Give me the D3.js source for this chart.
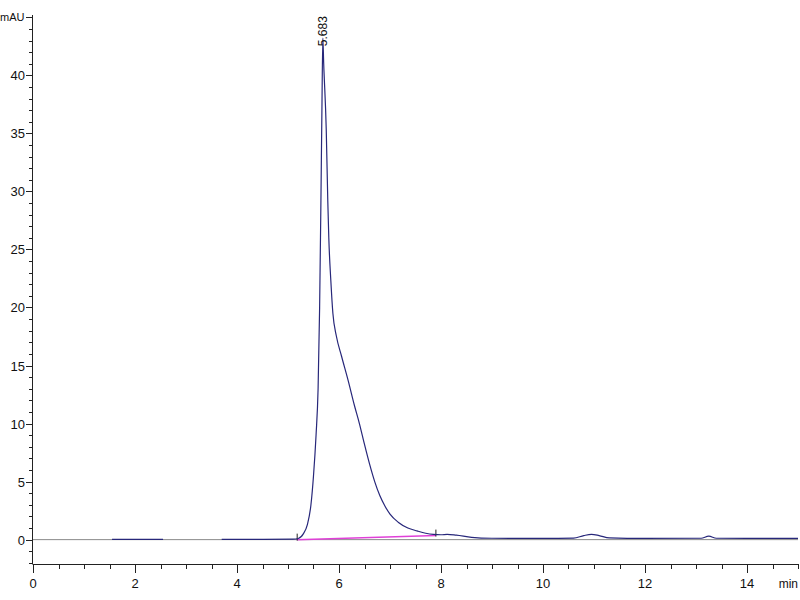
<!DOCTYPE html>
<meta charset="utf-8">
<script src="https://d3js.org/d3.v7.min.js"></script>
<style>
    body { margin: 0; background: #fff; }
    text { font-family: "Liberation Sans", Arial, sans-serif; fill: #111; }
</style>
<div id="vis"></div>
<script>
    // trace (min, mAU); null marks a gap
    var traceTime = [1.55, 2.55, null,
        3.7, 4.5, 5.1, 5.2, 5.3, 5.38, 5.45, 5.5, 5.55, 5.59, 5.62, 5.645, 5.665, 5.683,
        5.70, 5.75, 5.78, 5.80, 5.84, 5.88, 5.95, 6.05, 6.18, 6.30, 6.40, 6.50, 6.60, 6.70, 6.80, 6.90,
        7.0, 7.16, 7.35, 7.53, 7.7, 7.85, 8.0, 8.12, 8.3, 8.6, 9.0, 10, 10.6, 10.8, 10.95,
        11.1, 11.3, 12, 13.1, 13.25, 13.4, 14, 15];
    var traceValue = [0.03, 0.03, null,
        0.03, 0.03, 0.05, 0.1, 0.5, 1.3, 3, 5.5, 9, 13, 20, 29, 37, 43.2,
        41, 35.3, 29.2, 26, 22.3, 19.5, 17.5, 15.8, 13.7, 11.6, 10.0, 8.2, 6.5, 5.0, 3.8, 2.9,
        2.2, 1.5, 1.0, 0.75, 0.55, 0.45, 0.42, 0.45, 0.38, 0.2, 0.12, 0.1, 0.13, 0.35, 0.45,
        0.35, 0.15, 0.1, 0.12, 0.3, 0.12, 0.1, 0.1];

    // integration baseline of the main peak
    var baseTime = [5.18, 7.9];
    var baseValue = [0, 0.35];

    var peakTime = 5.683, peakValue = 43.2, peakLabel = "5.683";

    var xMajor = [0, 2, 4, 6, 8, 10, 12, 14];
    var yMajor = [0, 5, 10, 15, 20, 25, 30, 35, 40];

    var W = 800, H = 600;
    var svg = d3.select("#vis").append("svg")
        .attr("width", W).attr("height", H);

    var x = d3.scaleLinear().domain([0, 15]).range([33, 798]);
    var y = d3.scaleLinear().domain([-2.1, 45.2]).range([564, 15]);

    // zero line
    svg.append("line")
        .attr("x1", x(0)).attr("x2", x(15))
        .attr("y1", y(0)).attr("y2", y(0))
        .attr("stroke", "#8a8a8a").attr("stroke-width", 1);

    // axes
    var g = svg.append("g").attr("stroke", "#222").attr("stroke-width", 1);
    g.append("line").attr("x1", 32.5).attr("x2", 32.5).attr("y1", 15).attr("y2", 564);
    g.append("line").attr("x1", 32.5).attr("x2", 798).attr("y1", 564.5).attr("y2", 564.5);

    // y ticks
    d3.range(-2, 46, 1).forEach(function (v) {
        var major = v % 5 === 0;
        g.append("line")
            .attr("x1", major ? 26 : 29).attr("x2", 32.5)
            .attr("y1", Math.round(y(v)) + 0.5).attr("y2", Math.round(y(v)) + 0.5);
    });
    svg.selectAll(".ylab").data(yMajor).enter().append("text")
        .attr("x", 25).attr("y", function (d) { return y(d) + 5; })
        .attr("text-anchor", "end").style("font-size", "13px")
        .text(function (d) { return d; });
    svg.append("text").attr("x", 0).attr("y", 21)
        .style("font-size", "11px").text("mAU");

    // x ticks
    d3.range(0, 15.01, 0.5).forEach(function (v) {
        var major = xMajor.indexOf(v) >= 0;
        g.append("line")
            .attr("x1", Math.round(x(v)) + 0.5).attr("x2", Math.round(x(v)) + 0.5)
            .attr("y1", 564).attr("y2", major ? 573 : 569);
    });
    svg.selectAll(".xlab").data(xMajor).enter().append("text")
        .attr("x", function (d) { return x(d); }).attr("y", 588)
        .attr("text-anchor", "middle").style("font-size", "13px")
        .text(function (d) { return d; });
    svg.append("text").attr("x", 798).attr("y", 588)
        .attr("text-anchor", "end").style("font-size", "12px").text("min");

    // integration baseline
    var pts = baseTime.map(function (t, i) { return [t, baseValue[i]]; });
    svg.append("path")
        .attr("d", d3.line().x(function (d) { return x(d[0]); }).y(function (d) { return y(d[1]); })(pts))
        .attr("stroke", "#e040d8").attr("stroke-width", 1.5).attr("fill", "none");
    pts.forEach(function (p) {
        svg.append("line")
            .attr("x1", x(p[0])).attr("x2", x(p[0]))
            .attr("y1", y(p[1]) - 6).attr("y2", y(p[1]) + 1)
            .attr("stroke", "#222").attr("stroke-width", 1);
    });

    // trace
    var trace = traceTime.map(function (t, i) { return [t, traceValue[i]]; });
    var line = d3.line()
        .defined(function (d) { return d[0] !== null; })
        .x(function (d) { return x(d[0]); })
        .y(function (d) { return y(d[1]); })
        .curve(d3.curveMonotoneX);
    svg.append("path")
        .attr("d", line(trace))
        .attr("stroke", "#27277a").attr("stroke-width", 1.2).attr("fill", "none");

    // peak label
    svg.append("text")
        .attr("transform", "translate(" + (x(peakTime) + 4) + "," + (y(peakValue) + 8) + ") rotate(-90)")
        .style("font-size", "12px")
        .text(peakLabel);
</script>
